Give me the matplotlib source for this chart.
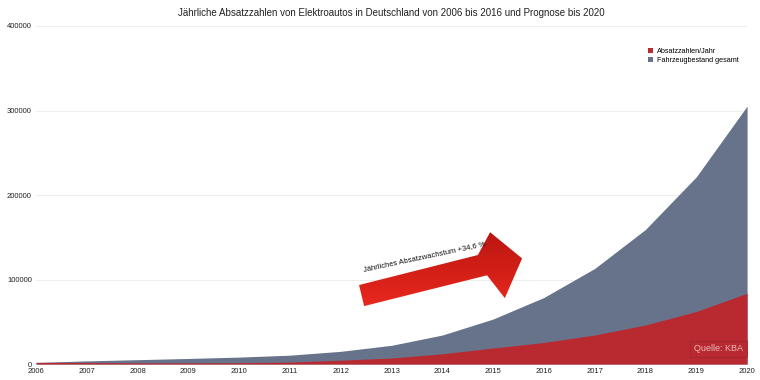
import matplotlib.pyplot as plt
from matplotlib.patches import Polygon
import numpy as np

# Absatzzahlen und Bestand (ab 2017 Prognose)
years = [2006, 2007, 2008, 2009, 2010, 2011, 2012, 2013,
         2014, 2015, 2016, 2017, 2018, 2019, 2020]
absatz = [1931, 1790, 1436, 1452, 1588, 2307, 4541, 7114,
          12156, 18948, 25502, 34326, 46203, 62189, 83707]
bestand = [1931, 3721, 5157, 6609, 8197, 10504, 15045, 22159,
           34315, 53263, 78765, 113091, 159294, 221483, 305190]
yticks = [0, 100000, 200000, 300000, 400000]

red = '#b92a30'
grey = '#67738a'

plt.rcParams['font.family'] = ['Liberation Sans', 'DejaVu Sans']

fig = plt.figure(figsize=(7.6, 3.8), dpi=100)
ax = fig.add_axes([0.0474, 0.042, 0.9356, 0.8896])

ax.fill_between(years, 0, bestand, color=grey, lw=0, label='Fahrzeugbestand gesamt')
ax.fill_between(years, 0, absatz, color=red, lw=0, label='Absatzzahlen/Jahr')

ax.set_xlim(2006, 2020)
ax.set_ylim(0, 400000)
ax.set_xticks(years)
ax.set_xticklabels([str(y) for y in years], fontsize=5.5, color='#222222')
ax.set_yticks(yticks)
ax.set_yticklabels([str(v) for v in yticks], fontsize=5.5, color='#222222')
ax.tick_params(length=0, pad=3)
ax.grid(axis='y', color='#eeeeee', lw=0.8)
ax.set_axisbelow(True)
for s in ax.spines.values():
    s.set_visible(False)

ax.set_title('Jährliche Absatzzahlen von Elektroautos in Deutschland von 2006 bis 2016 und Prognose bis 2020',
             fontsize=7.0, color='#222222', pad=7)

# legend
h, l = ax.get_legend_handles_labels()
leg = ax.legend(h[::-1], l[::-1], loc='upper right', bbox_to_anchor=(0.998, 0.955),
                frameon=False, fontsize=5.2, handlelength=0.7, handleheight=0.7,
                handletextpad=0.6, labelspacing=0.35)

# Pfeil
arrow = [(2012.36, 93500), (2014.70, 129000), (2014.94, 156000), (2015.57, 125000),
         (2015.23, 78000), (2014.88, 105000), (2012.46, 68600)]
poly = Polygon(arrow, closed=True, facecolor='none', edgecolor='none')
ax.add_patch(poly)
grad = np.linspace(0, 1, 100)
cols = np.zeros((100, 1, 3))
cols[:, 0, 0] = 0.92 - 0.2 * grad
cols[:, 0, 1] = 0.16 - 0.08 * grad
cols[:, 0, 2] = 0.12 - 0.06 * grad
im = ax.imshow(cols, extent=(2012.3, 2015.6, 160000, 65000), aspect='auto', zorder=3)
im.set_clip_path(poly)
ax.set_xlim(2006, 2020)
ax.set_ylim(0, 400000)

ax.text(2013.64, 127000, 'Jährliches Absatzwachstum +34,6 %', fontsize=5.5,
        rotation=12, ha='center', va='center', color='#111111', zorder=4)

# Quelle
ax.text(2019.92, 18000, 'Quelle: KBA', fontsize=6.5, color='#e8b8b8', ha='right', va='center',
        zorder=4, bbox=dict(boxstyle='square,pad=0.4', fc='none', ec='#a02630', lw=0.6))

fig.savefig('out.png', dpi=100)
